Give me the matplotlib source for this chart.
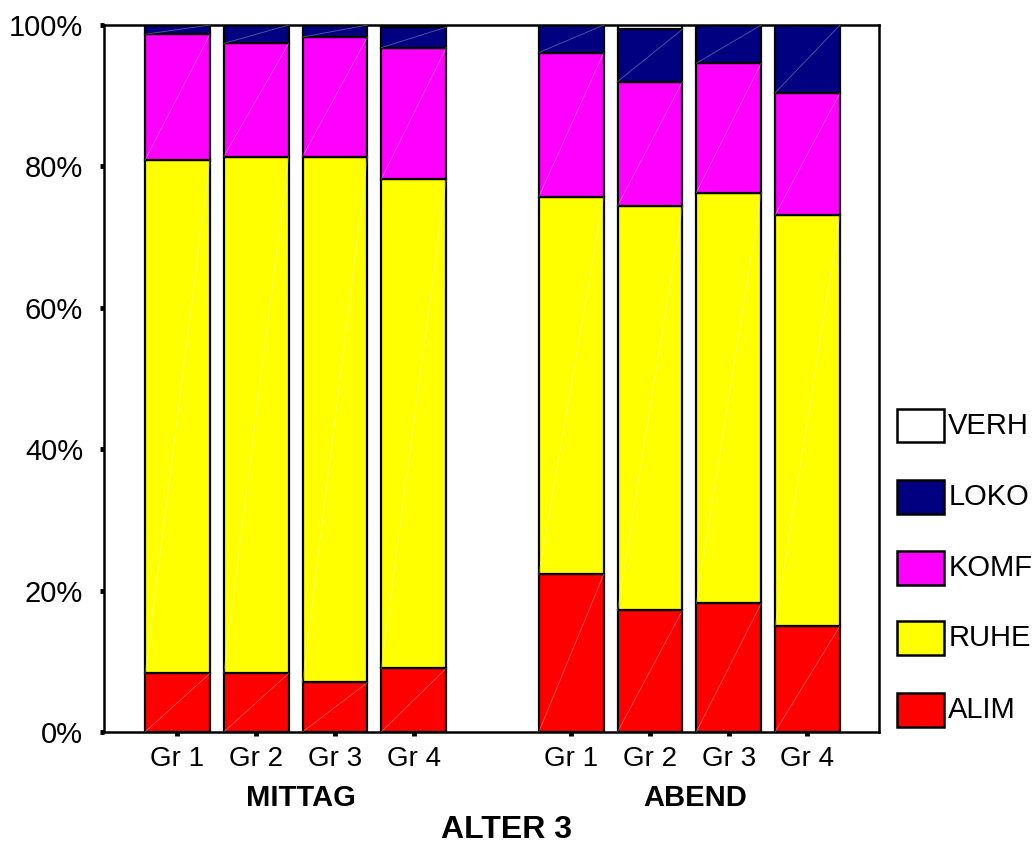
import numpy as N
import matplotlib
matplotlib.use('Agg')
import matplotlib.pyplot as plt
from matplotlib.patches import Rectangle

# data (percent of observations), bottom -> top
groups = ['MITTAG', 'ABEND']
bar_labels = ['Gr 1', 'Gr 2', 'Gr 3', 'Gr 4', 'Gr 1', 'Gr 2', 'Gr 3', 'Gr 4']
layers = ['ALIM', 'RUHE', 'KOMF', 'LOKO', 'VERH']
colors = ['#ff0000', '#ffff00', '#ff00ff', '#000080', '#ffffff']

alim = [8.3, 8.3, 7.0, 9.0, 22.3, 17.2, 18.2, 15.0]
ruhe = [72.6, 73.1, 74.4, 69.2, 53.4, 57.2, 58.1, 58.1]
komf = [17.8, 16.0, 16.9, 18.6, 20.4, 17.6, 18.3, 17.3]
loko = [1.3, 2.6, 1.7, 2.9, 3.9, 7.4, 5.4, 9.6]
verh = [0.0, 0.0, 0.0, 0.3, 0.0, 0.6, 0.0, 0.0]

values = [alim, ruhe, komf, loko, verh]
xpos = N.array([0, 1, 2, 3, 5, 6, 7, 8], dtype=float)
width = 0.825

plt.rcParams['font.family'] = ['Liberation Sans', 'DejaVu Sans']

fig = plt.figure(figsize=(10.34, 8.46), dpi=100)
ax = fig.add_axes([0.1006, 0.1348, 0.7495, 0.8356])

bottom = N.zeros(len(xpos))
for name, col, val in zip(layers, colors, values):
    val = N.array(val)
    ax.bar(xpos, val, width, bottom=bottom, color=col, edgecolor='black',
           linewidth=1.6, zorder=2)
    # faint diagonal inside each segment
    if name != 'VERH':
        for x, b, v in zip(xpos, bottom, val):
            if v > 0:
                ax.plot([x - width / 2, x + width / 2], [b, b + v], color='white',
                        alpha=0.35, lw=0.6, zorder=3)
    bottom += val

ax.set_xlim(-0.933, 8.908)
ax.set_ylim(0, 100)
ax.set_yticks([0, 20, 40, 60, 80, 100])
ax.set_yticklabels(['0%', '20%', '40%', '60%', '80%', '100%'])
ax.set_xticks(xpos)
ax.set_xticklabels(bar_labels)
ax.tick_params(axis='y', direction='out', length=3, width=3.5, pad=12, labelsize=21)
ax.tick_params(axis='x', direction='out', length=3, width=3.5, pad=7, labelsize=20)
for s in ax.spines.values():
    s.set_linewidth(1.8)

# group labels under the bars
for i, g in enumerate(groups):
    xc = xpos[i * 4:(i + 1) * 4].mean() + 0.07
    ax.text(xc, -0.093, g, transform=ax.get_xaxis_transform(), ha='center',
            va='center', fontsize=21, fontweight='bold')

fig.text(0.49, 0.009, 'ALTER 3', ha='center', va='baseline', fontsize=23,
         fontweight='bold')

# legend drawn by hand, top entry = VERH
ys = [0.497, 0.413, 0.329, 0.246, 0.161]
for yc, name, col in zip(ys, layers[::-1], colors[::-1]):
    fig.add_artist(Rectangle((0.8675, yc - 0.02), 0.0455, 0.04, facecolor=col,
                             edgecolor='black', lw=1.8, transform=fig.transFigure))
    fig.text(0.917, yc, name, ha='left', va='center', fontsize=21)

fig.savefig('out.png', dpi=100)
